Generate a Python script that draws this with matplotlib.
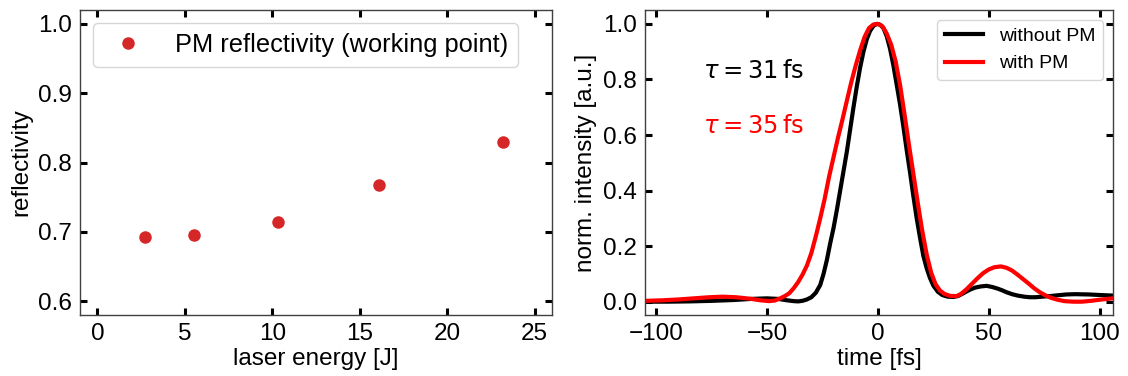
import numpy as np
import matplotlib
matplotlib.use("Agg")
import matplotlib.pyplot as plt

plt.rcParams['font.family'] = ['Liberation Sans', 'DejaVu Sans']
plt.rcParams['mathtext.fontset'] = 'dejavusans'

# left panel: reflectivity vs laser energy
energy = [2.7, 5.5, 10.3, 16.1, 23.2]
reflectivity = [0.692, 0.696, 0.714, 0.767, 0.830]

# right panel: temporal intensity profiles
t_without = [-105, -95, -85, -75, -65, -57, -50, -45, -41, -38, -36, -34, -32, -30, -28, -26,
             -24.5, -23, -21.5, -20, -18.5, -17, -15.5, -14, -12.5, -11, -9.5, -8, -6.5, -5,
             -3.5, -2, -0.5, 1, 2.5, 4, 5.5, 7, 8.5, 10, 11.5, 13, 14.5, 16, 17.5, 19, 20.5,
             22, 23.5, 25, 27, 29, 31.5, 34, 36, 38, 40, 42, 44, 46.5, 49, 51.5, 54, 56, 58,
             60.5, 63, 66, 68.5, 71, 74, 77.5, 81, 85, 89, 95, 100, 106]
i_without = [0.0, 0.0, 0.001, 0.003, 0.006, 0.01, 0.012, 0.01, 0.005, 0.002, 0.001, 0.003, 0.008,
             0.016, 0.032, 0.06, 0.10, 0.15, 0.21, 0.265, 0.33, 0.40, 0.47, 0.54, 0.62, 0.70,
             0.775, 0.843, 0.90, 0.945, 0.975, 0.993, 1.0, 0.997, 0.985, 0.955, 0.91, 0.85, 0.78,
             0.71, 0.63, 0.545, 0.465, 0.38, 0.30, 0.23, 0.165, 0.12, 0.085, 0.058, 0.036, 0.024,
             0.018, 0.017, 0.02, 0.028, 0.037, 0.045, 0.051, 0.055, 0.057, 0.053, 0.047, 0.041,
             0.034, 0.027, 0.022, 0.018, 0.016, 0.016, 0.018, 0.02, 0.023, 0.026, 0.027, 0.026,
             0.024, 0.022]

t_with = [-105, -97, -90, -83, -76, -70, -64, -58, -53, -49, -46.5, -44, -42, -40, -38, -36, -34,
          -32, -30, -28, -26, -24, -22, -20, -18, -16, -14, -12, -10, -8, -6, -4, -2, 0, 2, 4, 6,
          8, 10, 12, 14, 16, 18, 20, 22, 24, 26, 28, 30, 32.5, 35.5, 37.5, 40, 42.5, 45, 47.5,
          50, 52.5, 55.5, 58, 60.5, 63, 65.5, 68, 70.5, 73, 75.5, 78, 81, 84, 88, 92, 96, 101,
          106]
i_with = [0.003, 0.005, 0.008, 0.012, 0.016, 0.018, 0.016, 0.011, 0.005, 0.002, 0.004, 0.012, 0.02,
          0.03, 0.048, 0.07, 0.097, 0.13, 0.175, 0.235, 0.30, 0.37, 0.45, 0.52, 0.59, 0.655, 0.723,
          0.79, 0.85, 0.905, 0.953, 0.985, 0.998, 1.0, 0.992, 0.965, 0.925, 0.865, 0.78, 0.675,
          0.565, 0.46, 0.355, 0.255, 0.17, 0.105, 0.063, 0.04, 0.028, 0.021, 0.02, 0.028, 0.045,
          0.065, 0.085, 0.103, 0.116, 0.124, 0.127, 0.122, 0.112, 0.097, 0.081, 0.065, 0.048,
          0.034, 0.023, 0.014, 0.007, 0.002, 0.0, 0.0, 0.003, 0.008, 0.012]

fig = plt.figure(figsize=(11.28, 3.76), dpi=100)
ax1 = fig.add_axes([0.0709, 0.1622, 0.4185, 0.8112])
ax2 = fig.add_axes([0.5718, 0.1622, 0.4149, 0.8112])

for ax in (ax1, ax2):
    ax.tick_params(direction='in', top=True, right=True, length=5, width=2.2,
                   labelsize=17.5, pad=6)
    for s in ax.spines.values():
        s.set_linewidth(1.0)
        s.set_color('0.25')

ax1.plot(energy, reflectivity, 'o', color='#d62728', markersize=8,
         label='PM reflectivity (working point)')
ax1.set_xlim(-1, 26)
ax1.set_ylim(0.58, 1.02)
ax1.set_xticks([0, 5, 10, 15, 20, 25])
ax1.set_yticks([0.6, 0.7, 0.8, 0.9, 1.0])
ax1.set_xlabel('laser energy [J]', fontsize=17.5, labelpad=2)
ax1.set_ylabel('reflectivity', fontsize=17.5)
ax1.legend(loc='upper left', fontsize=18.3, handletextpad=0.83, borderaxespad=0.5)

ax2.plot(t_without, i_without, color='black', lw=3, label='without PM')
ax2.plot(t_with, i_with, color='red', lw=3, label='with PM')
ax2.set_xlim(-105, 106)
ax2.set_ylim(-0.048, 1.05)
ax2.set_xticks([-100, -50, 0, 50, 100])
ax2.set_yticks([0.0, 0.2, 0.4, 0.6, 0.8, 1.0])
ax2.set_xlabel('time [fs]', fontsize=17.5, labelpad=2)
ax2.set_ylabel('norm. intensity [a.u.]', fontsize=17.5)
ax2.text(-79, 0.83, r'$\tau = 31\,\mathrm{fs}$', fontsize=17.5, color='black', va='center')
ax2.text(-79, 0.63, r'$\tau = 35\,\mathrm{fs}$', fontsize=17.5, color='red', va='center')
ax2.legend(loc='upper right', fontsize=14)

fig.savefig('out.png', dpi=100)
